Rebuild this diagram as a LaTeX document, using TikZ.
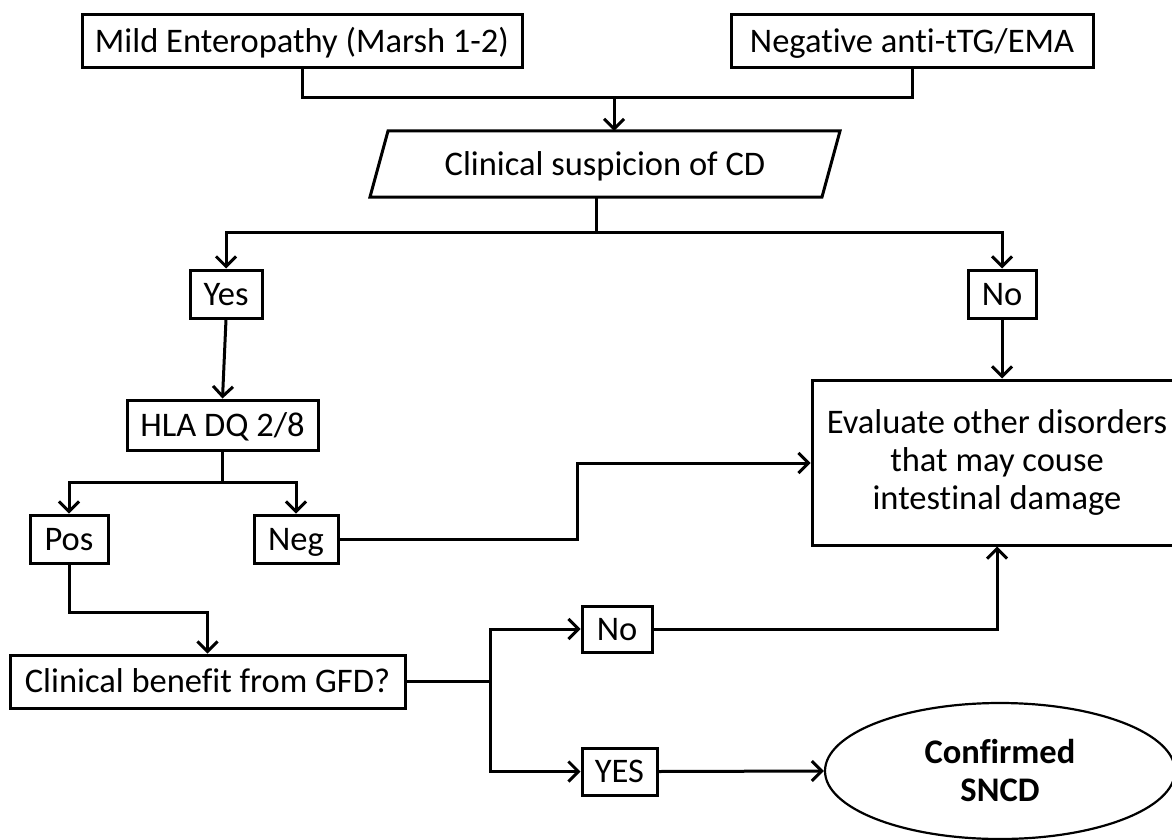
\documentclass[tikz,border=0pt]{standalone}
\usepackage{fontspec}
\setmainfont{Carlito}[Ligatures=NoCommon]
\usetikzlibrary{arrows.meta,shapes.geometric}
\begin{document}
\begin{tikzpicture}[x=1pt,y=-1pt,
  every node/.style={font=\fontsize{34.5}{38}\selectfont},
  box/.style={draw,line width=3pt,inner sep=0pt,align=center},
  one/.style={text height=24pt,text depth=2pt},
  conn/.style={line width=3pt},
  arr/.style={conn,-{Straight Barb[length=10pt,width=20pt,line width=3pt]}}]
\useasboundingbox (0,0) rectangle (1172,840);
\clip (0,0) rectangle (1172,840);
% nodes
\node[box,one,minimum width=440pt,minimum height=53pt] (mild) at (302,41.5) {Mild Enteropathy (Marsh 1-2)};
\node[box,one,minimum width=362pt,minimum height=53pt] (anti) at (912,41.5) {Negative anti-tTG/EMA};
\node[one,minimum width=452pt,minimum height=66pt,inner sep=0pt] (susp) at (605,164) {Clinical suspicion of CD};
\draw[conn,line join=miter] (388,131) -- (840,131) -- (822,197) -- (370,197) -- cycle;
\coordinate (suspN) at (614,131);
\coordinate (suspS) at (596,197);
\node[box,one,minimum width=72pt,minimum height=48pt] (yes) at (226,294) {Yes};
\node[box,one,minimum width=68pt,minimum height=48pt] (noA) at (1002,294) {No};
\node[box,one,minimum width=191pt,minimum height=50pt] (hla) at (222.5,425) {HLA DQ 2/8};
\node[box,one,minimum width=78pt,minimum height=48pt] (pos) at (69,539) {Pos};
\node[box,one,minimum width=84pt,minimum height=48pt] (neg) at (296,539) {Neg};
\node[box,minimum width=370pt,minimum height=165pt] (eval) at (997,462.5) {Evaluate other disorders\\that may couse\\intestinal damage};
\node[box,one,minimum width=395pt,minimum height=53pt] (ben) at (207.5,681.5) {Clinical benefit from GFD?};
\node[box,one,minimum width=70pt,minimum height=46pt] (noB) at (617,629) {No};
\node[box,one,minimum width=75pt,minimum height=47pt] (yesB) at (619.5,771.5) {YES};
\node[draw,ellipse,line width=2.2pt,minimum width=350pt,minimum height=136pt,align=center,
  font=\fontsize{34.5}{38}\selectfont\bfseries] (conf) at (1000,771) {Confirmed\\SNCD};
% junctions
\coordinate (j1) at (614,98);
\coordinate (j2) at (596,232);
\coordinate (j3) at (222.5,482);
\coordinate (j4) at (577,463);
\coordinate (j5) at (207.5,612);
\coordinate (j6) at (490,681.5);
% connectors
\draw[conn] (mild.south) |- (j1);
\draw[conn] (anti.south) |- (j1);
\draw[arr] (j1) -- (suspN);
\draw[conn] (suspS) -- (j2);
\draw[arr] (j2) -| (yes.north);
\draw[arr] (j2) -| (noA.north);
\draw[arr] (yes.south) -- (hla.north);
\draw[conn] (hla.south) -- (j3);
\draw[arr] (j3) -| (pos.north);
\draw[arr] (j3) -| (neg.north);
\draw[arr] (neg.east) -| (j4) -- (eval.west |- j4);
\draw[arr] (noA.south) -- (noA.south |- eval.north);
\draw[arr] (pos.south) |- (j5) -- (ben.north);
\draw[conn] (ben.east) -- (j6);
\draw[arr] (j6) |- (noB.west);
\draw[arr] (j6) |- (yesB.west);
\draw[arr] (noB.east) -| (eval.south);
\draw[arr] (yesB.east) -- (conf.west);
\end{tikzpicture}
\end{document}
